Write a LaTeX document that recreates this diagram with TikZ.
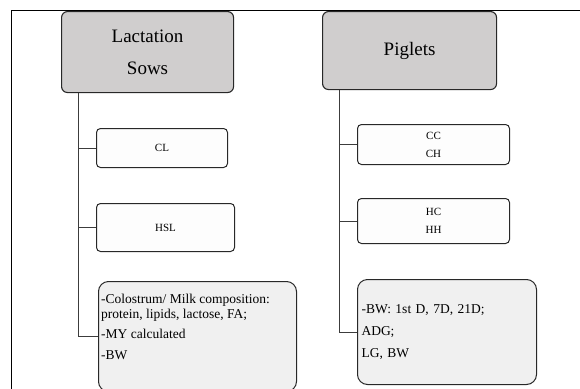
\documentclass[tikz,border=0pt]{standalone}
\usepackage{fontspec}
\setmainfont{Liberation Serif}
\definecolor{headfill}{RGB}{208,206,206}
\definecolor{smallfill}{RGB}{253,253,253}
\definecolor{bigfill}{RGB}{240,240,240}
\definecolor{edge}{RGB}{40,40,40}
\definecolor{conncol}{RGB}{60,60,60}
\tikzset{
  headbox/.style={draw=edge, line width=1.1pt, fill=headfill, rounded corners=6pt, anchor=north west, align=center, inner sep=0pt, font=\fontsize{19}{32}\selectfont},
  smallbox/.style={draw=edge, line width=1pt, fill=smallfill, rounded corners=4pt, anchor=north west, align=center, inner sep=0pt, font=\fontsize{11}{18}\selectfont},
  bigbox/.style={draw=edge, line width=1pt, fill=bigfill, rounded corners=10pt, anchor=north west, inner sep=0pt},
  conn/.style={draw=conncol, line width=1pt},
  frameline/.style={draw=black, line width=1pt}
}
\begin{document}
\begin{tikzpicture}[x=1pt,y=-1pt]
\useasboundingbox (0,0) rectangle (580,388);
\clip (0,0) rectangle (580,388);
\draw[frameline] (11,390) -- (11,10) -- (582,10);
% left column
\node[headbox, minimum width=172pt, minimum height=81pt] (ls) at (61,11) {Lactation\\Sows};
\node[smallbox, minimum width=131pt, minimum height=39pt] (cl) at (96,128) {CL};
\node[smallbox, minimum width=138pt, minimum height=48pt] (hsl) at (96,203) {HSL};
\node[bigbox, minimum width=198pt, minimum height=110pt] (lm) at (98,281) {};
\node[anchor=north west, align=left, inner sep=0pt, font=\fontsize{13.5}{15}\selectfont] (lmtext) at (101,294)
  {-Colostrum/ Milk composition:\\protein, lipids, lactose, FA;\\[5pt]-MY calculated\\[6pt]-BW};
\path (ls.south west) ++(17,0) coordinate (lt);
\draw[conn] (lt) |- (cl.west);
\draw[conn] (lt) |- (hsl.west);
\draw[conn] (lt) |- (lm.west);
% right column
\node[headbox, minimum width=174pt, minimum height=78pt] (pg) at (322,11) {Piglets};
\node[smallbox, minimum width=152pt, minimum height=40pt] (cc) at (357,124) {CC\\CH};
\node[smallbox, minimum width=152pt, minimum height=45pt] (hc) at (357,198) {HC\\HH};
\node[bigbox, minimum width=179pt, minimum height=105pt, align=left, text width=171pt, inner xsep=4pt, font=\fontsize{13.5}{22}\selectfont] (pm) at (357,279)
  {-BW: 1st D, 7D, 21D;\\ADG;\\LG, BW};
\path (pg.south west) ++(17,0) coordinate (rt);
\draw[conn] (rt) |- (cc.west);
\draw[conn] (rt) |- (hc.west);
\draw[conn] (rt) |- (pm.west);
\end{tikzpicture}
\end{document}
